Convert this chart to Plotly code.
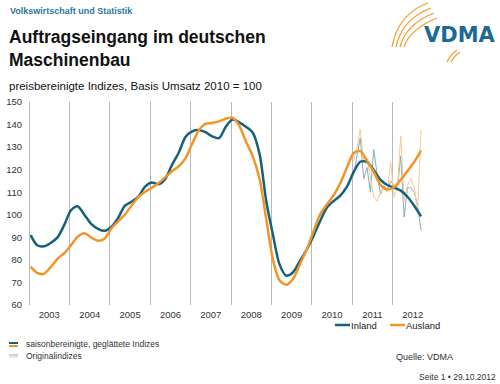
import plotly.graph_objects as go

# ---- data ----
# smoothed, seasonally adjusted indices, every 2nd month from Jan 2003 to Sep 2012
month_idx = list(range(0, 117, 2))
inland = [91, 86.5, 86, 87.5, 90, 95.5, 102, 103.8, 100, 96, 93.8, 92.9,
          94.7, 98.5, 104, 105.8, 108, 112.5, 114.3, 113.5, 115.8, 122, 127.5, 134.5,
          137, 137.6, 136.6, 134.8, 134, 139, 142.2, 141, 139, 136.5, 127, 106,
          91, 78, 73, 74.5, 79.5, 84.5, 90.5, 97, 103, 106, 108.5, 112.5,
          119, 123.5, 123.5, 119.8, 115.5, 113.2, 112, 110.7, 108, 104, 99.3]
ausland = [77, 74.2, 73.8, 76.8, 80.5, 83, 86.5, 90.3, 91.8, 90, 88.5, 89.5,
           94, 97, 100, 104, 107.8, 110.2, 112, 114, 116.6, 119.3, 121.5, 125,
           131.5, 137.5, 140.3, 140.7, 141.4, 142.6, 143, 139.5, 132.5, 126, 116, 98,
           80, 71, 69, 71.5, 78, 84.5, 92.5, 100, 104.5, 108.5, 114, 121,
           127.4, 128.2, 124, 119, 113.2, 111.2, 112.3, 115.5, 119.4, 123.4, 128.4]

# original indices, monthly Jan 2011 - Sep 2012
orig_month_idx = list(range(96, 117))
inland_orig = [118, 126, 134, 116, 121, 110, 129, 118, 109, 113, 111, 115,
               113, 112, 126, 99, 112, 112, 110, 104, 93]
ausland_orig = [124, 130, 138, 123, 125, 117, 108, 106, 110, 112, 110, 123,
                108, 112, 135, 106, 113, 116, 112, 102, 137.5]

series_names = ["Inland", "Ausland"]
years = list(range(2003, 2014))


def to_date(m):
    return f"{2003 + m // 12}-{m % 12 + 1:02d}-15"


x_s = [to_date(m) for m in month_idx]
x_o = [to_date(m) for m in orig_month_idx]

BLUE = "#16607c"
ORANGE = "#f29426"
BLUE_L = "#86aebd"
ORANGE_L = "#f8c995"
GRID = "#b8b8b8"
FONT = "Liberation Sans, Arial, sans-serif"

# plot area in pixels
L, R, T, B = 28, 434, 102, 305


def px(x):
    return (x - L) / (R - L)


def py(y):
    return (B - y) / (B - T)


fig = go.Figure()
fig.add_trace(go.Scatter(x=x_o, y=inland_orig, mode="lines", line=dict(color=BLUE_L, width=1),
                         showlegend=False, hoverinfo="skip"))
fig.add_trace(go.Scatter(x=x_o, y=ausland_orig, mode="lines", line=dict(color=ORANGE_L, width=1),
                         showlegend=False, hoverinfo="skip"))
fig.add_trace(go.Scatter(x=x_s, y=inland, mode="lines", name=series_names[0], showlegend=False,
                         line=dict(color=BLUE, width=2.5, shape="spline", smoothing=0.8)))
fig.add_trace(go.Scatter(x=x_s, y=ausland, mode="lines", name=series_names[1], showlegend=False,
                         line=dict(color=ORANGE, width=2.5, shape="spline", smoothing=0.8)))

fig.update_layout(
    width=500, height=384,
    margin=dict(l=L, r=500 - R, t=T, b=384 - B, pad=0, autoexpand=False),
    paper_bgcolor="white", plot_bgcolor="white",
    font=dict(family=FONT, size=9.5, color="#333333"),
    showlegend=False,
    xaxis=dict(type="date", range=[f"{years[0] - 1}-12-22", f"{years[-1]}-01-10"],
               tick0=f"{years[0]}-01-01", dtick="M12", ticklabelmode="period",
               tickformat="%Y", showgrid=True, gridcolor=GRID, gridwidth=1.2,
               showline=False, zeroline=False, ticks="", automargin=False,
               ticklabelstandoff=2, tickfont=dict(size=9.5, color="#333333")),
    yaxis=dict(range=[60, 150], dtick=10, showgrid=False, zeroline=False, showline=False,
               ticks="", automargin=False, ticklabelstandoff=5,
               tickfont=dict(size=9.5, color="#333333")),
    hovermode=False,
)

ann = [
    dict(text="<b>Volkswirtschaft und Statistik</b>", x=px(8), y=py(11), font=dict(size=9, color="#2a7a9a")),
    dict(text="<b>Auftragseingang im deutschen</b>", x=px(7), y=py(37), font=dict(size=17.5, color="#111111")),
    dict(text="<b>Maschinenbau</b>", x=px(7), y=py(60), font=dict(size=17.5, color="#111111")),
    dict(text="preisbereinigte Indizes, Basis Umsatz 2010 = 100", x=px(7), y=py(86), font=dict(size=11.5, color="#111111")),
    dict(text="saisonbereinigte, geglättete Indizes", x=px(24), y=py(344), font=dict(size=8.5, color="#333333")),
    dict(text="Originalindizes", x=px(24), y=py(356), font=dict(size=8.5, color="#333333")),
    dict(text="Quelle: VDMA", x=px(394), y=py(357), font=dict(size=9, color="#333333")),
    dict(text="Seite 1 • 29.10.2012", x=px(498), y=py(377), xanchor="right", font=dict(size=8.5, color="#333333")),
    dict(text="<b>VDMA</b>", x=px(422), y=py(35), font=dict(size=21, color="#1b6a90", family="DejaVu Sans")),
    # series legend
    dict(text=series_names[0], x=px(349), y=py(325), font=dict(size=9.5, color="#222222")),
    dict(text=series_names[1], x=px(404), y=py(325), font=dict(size=9.5, color="#222222")),
]
annotations = []
for a in ann:
    d = dict(xref="paper", yref="paper", xanchor="left", yanchor="middle", showarrow=False)
    d.update(a)
    annotations.append(d)
fig.update_layout(annotations=annotations)

shapes = []
# series legend keys
for x0, c in [(335, BLUE), (390, ORANGE)]:
    shapes.append(dict(type="line", xref="paper", yref="paper", x0=px(x0), x1=px(x0 + 15),
                       y0=py(325), y1=py(325), line=dict(color=c, width=2.5)))
# small legend icons bottom-left
for y, c in [(343, BLUE), (346, ORANGE)]:
    shapes.append(dict(type="line", xref="paper", yref="paper", x0=px(9), x1=px(18), y0=py(y), y1=py(y),
                       line=dict(color=c, width=2)))
for y, c in [(355, BLUE_L), (357, ORANGE_L)]:
    shapes.append(dict(type="line", xref="paper", yref="paper", x0=px(9), x1=px(18), y0=py(y), y1=py(y),
                       line=dict(color=c, width=1)))

# VDMA logo arcs
arcs = [((392, 47), (398, 14), (428, 3)), ((396, 47), (402, 19), (431, 8)),
        ((400, 47), (406, 24), (434, 13)), ((404, 47), (410, 29), (437, 18)),
        ((447, 62), (450, 55), (457, 50)), ((451, 62), (454, 56), (460, 52))]
for (a, b, c) in arcs:
    path = f"M {px(a[0])},{py(a[1])} Q {px(b[0])},{py(b[1])} {px(c[0])},{py(c[1])}"
    shapes.append(dict(type="path", xref="paper", yref="paper", path=path,
                       line=dict(color="#f0a030", width=1.3)))
fig.update_layout(shapes=shapes)

fig.write_html("out.html", config={"displayModeBar": False},
               post_script="document.body.style.margin='0';")
